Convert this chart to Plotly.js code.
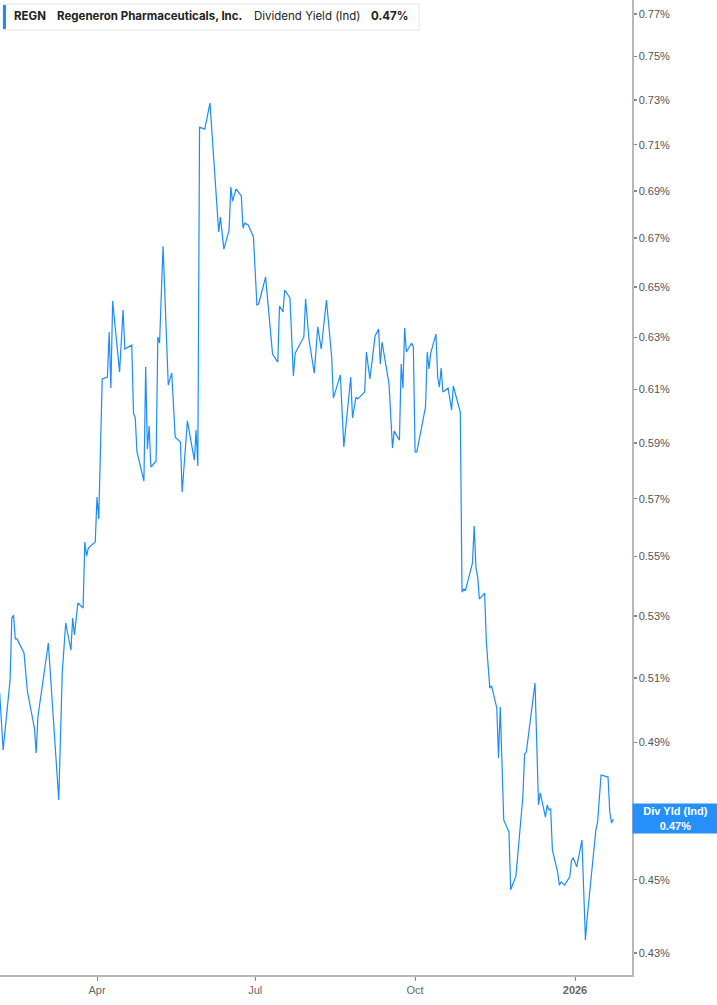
<!DOCTYPE html>
<html>
<head>
<meta charset="utf-8">
<script src="https://cdn.plot.ly/plotly-3.0.1.min.js"></script>
<style>
  html, body { margin: 0; padding: 0; background: #ffffff; }
  #chart { width: 717px; height: 1005px; }
</style>
</head>
<body>
<div id="chart"></div>
<script>
const ticker = 'REGN';
const companyName = 'Regeneron Pharmaceuticals, Inc.';
const metricName = 'Dividend Yield (Ind)';
const metricShort = 'Div Yld (Ind)';

const dates = [
  '2025-02-04','2025-02-06','2025-02-10','2025-02-11','2025-02-12','2025-02-13','2025-02-14','2025-02-18','2025-02-20','2025-02-24',
  '2025-02-25','2025-02-26','2025-03-04','2025-03-06','2025-03-10','2025-03-12','2025-03-14','2025-03-17','2025-03-18','2025-03-19',
  '2025-03-21','2025-03-24','2025-03-25','2025-03-26','2025-03-27','2025-03-31','2025-04-01','2025-04-02','2025-04-04','2025-04-07',
  '2025-04-08','2025-04-09','2025-04-10','2025-04-14','2025-04-16','2025-04-17','2025-04-21','2025-04-22','2025-04-23','2025-04-24',
  '2025-04-28','2025-04-29','2025-04-30','2025-05-01','2025-05-02','2025-05-05','2025-05-06','2025-05-07','2025-05-09','2025-05-12',
  '2025-05-14','2025-05-16','2025-05-19','2025-05-20','2025-05-23','2025-05-27','2025-05-28','2025-05-29','2025-05-30','2025-06-02',
  '2025-06-05','2025-06-10','2025-06-11','2025-06-13','2025-06-16','2025-06-17','2025-06-18','2025-06-20','2025-06-23','2025-06-24',
  '2025-06-25','2025-06-27','2025-06-30','2025-07-02','2025-07-03','2025-07-07','2025-07-11','2025-07-14','2025-07-15','2025-07-17',
  '2025-07-18','2025-07-21','2025-07-23','2025-07-24','2025-07-29','2025-07-30','2025-08-01','2025-08-04','2025-08-06','2025-08-08',
  '2025-08-11','2025-08-14','2025-08-15','2025-08-19','2025-08-21','2025-08-25','2025-08-26','2025-08-28','2025-08-29','2025-09-02',
  '2025-09-03','2025-09-05','2025-09-08','2025-09-10','2025-09-11','2025-09-12','2025-09-16','2025-09-18','2025-09-19','2025-09-22',
  '2025-09-23','2025-09-24','2025-09-25','2025-09-26','2025-09-29','2025-09-30','2025-10-01','2025-10-02','2025-10-07','2025-10-08',
  '2025-10-09','2025-10-10','2025-10-13','2025-10-14','2025-10-15','2025-10-16','2025-10-17','2025-10-20','2025-10-22','2025-10-23',
  '2025-10-27','2025-10-28','2025-10-29','2025-10-30','2025-11-03','2025-11-04','2025-11-05','2025-11-06','2025-11-07','2025-11-10',
  '2025-11-11','2025-11-13','2025-11-14','2025-11-17','2025-11-18','2025-11-19','2025-11-21','2025-11-24','2025-11-25','2025-11-28',
  '2025-12-02','2025-12-03','2025-12-04','2025-12-09','2025-12-10','2025-12-11','2025-12-12','2025-12-15','2025-12-16','2025-12-17',
  '2025-12-18','2025-12-19','2025-12-22','2025-12-23','2025-12-24','2025-12-26','2025-12-29','2025-12-30','2025-12-31','2026-01-02',
  '2026-01-05','2026-01-07','2026-01-08','2026-01-13','2026-01-14','2026-01-16','2026-01-20','2026-01-21','2026-01-22','2026-01-23'
];

const yieldPct = [
  0.5053,0.4877,0.5094,0.5293,0.5303,0.5225,0.5225,0.5180,0.5056,0.4944,
  0.4868,0.4978,0.5212,0.5053,0.4728,0.5116,0.5277,0.5189,0.5293,0.5238,
  0.5343,0.5326,0.5549,0.5501,0.5528,0.5549,0.5706,0.5629,0.6140,0.6147,
  0.6321,0.6105,0.6444,0.6166,0.6408,0.6255,0.6270,0.6011,0.5993,0.5868,
  0.5763,0.6185,0.5878,0.5963,0.5813,0.5835,0.6302,0.6278,0.6667,0.6116,
  0.6162,0.5922,0.5904,0.5724,0.5982,0.5838,0.5948,0.5817,0.7178,0.7169,
  0.7286,0.6726,0.6788,0.6655,0.6734,0.6916,0.6856,0.6908,0.6878,0.6742,
  0.6763,0.6755,0.6705,0.6428,0.6432,0.6540,0.6235,0.6204,0.6424,0.6400,
  0.6488,0.6456,0.6151,0.6239,0.6302,0.6452,0.6290,0.6162,0.6341,0.6255,
  0.6448,0.6224,0.6067,0.6155,0.5886,0.6147,0.5993,0.6071,0.6064,0.6090,
  0.6243,0.6140,0.6306,0.6333,0.6197,0.6282,0.6120,0.5882,0.5944,0.5911,
  0.6197,0.6105,0.6337,0.6243,0.6278,0.6263,0.5868,0.5868,0.6034,0.6243,
  0.6178,0.6239,0.6313,0.6147,0.6109,0.6181,0.6090,0.6105,0.6023,0.6113,
  0.6015,0.5379,0.5389,0.5386,0.5477,0.5604,0.5464,0.5430,0.5356,0.5376,
  0.5215,0.5068,0.5075,0.5006,0.4853,0.5009,0.4670,0.4635,0.4472,0.4510,
  0.4737,0.4865,0.4871,0.5084,0.4862,0.4714,0.4749,0.4678,0.4714,0.4699,
  0.4702,0.4584,0.4521,0.4485,0.4494,0.4485,0.4508,0.4555,0.4561,0.4536,
  0.4612,0.4335,0.4395,0.4641,0.4664,0.4802,0.4796,0.4693,0.4661,0.4673
];

const yTickVals = [0.43,0.45,0.47,0.49,0.51,0.53,0.55,0.57,0.59,0.61,0.63,0.65,0.67,0.69,0.71,0.73,0.75,0.77];
const xTickVals = ['2025-04-01','2025-07-01','2025-10-01','2026-01-01'];
const xTickText = ['Apr','Jul','Oct','<b>2026</b>'];

const lineColor = '#1a8cff';
const lastVal = yieldPct[yieldPct.length - 1];
const lastText = lastVal.toFixed(2) + '%';
// the tick label that sits behind the last-value box is hidden by it
const yTickText = yTickVals.map(v => (v.toFixed(2) + '%' === lastText) ? '' : v.toFixed(2) + '%');

const trace = {
  type: 'scatter',
  mode: 'lines',
  x: dates,
  y: yieldPct,
  line: { color: lineColor, width: 1.2 },
  hoverinfo: 'skip',
  showlegend: false
};

const titleFont = { family: 'Inter, Roboto, Arial, sans-serif', size: 11.5, color: '#222222' };

const layout = {
  width: 717,
  height: 1005,
  margin: { l: 0, r: 85, t: 0, b: 30, pad: 0 },
  paper_bgcolor: '#ffffff',
  plot_bgcolor: '#ffffff',
  showlegend: false,
  xaxis: {
    type: 'date',
    range: ['2025-02-04 04:41', '2026-02-02 19:00'],
    tickmode: 'array',
    tickvals: xTickVals,
    ticktext: xTickText,
    ticks: 'outside',
    ticklen: 4,
    tickwidth: 1,
    tickcolor: '#888888',
    showgrid: false,
    zeroline: false,
    showline: true,
    linecolor: '#b8b8b8',
    linewidth: 1.5,
    tickfont: { family: 'Arial, Liberation Sans, sans-serif', size: 11, color: '#666666' },
    fixedrange: true
  },
  yaxis: {
    type: 'log',
    side: 'right',
    range: [-0.37246, -0.10974],
    tickmode: 'array',
    tickvals: yTickVals,
    ticktext: yTickText,
    ticks: 'outside',
    ticklen: 3,
    tickwidth: 1.5,
    tickcolor: '#888888',
    showgrid: false,
    zeroline: false,
    showline: true,
    linecolor: '#b8b8b8',
    linewidth: 1.5,
    tickfont: { family: 'Arial, Liberation Sans, sans-serif', size: 11, color: '#555555' },
    fixedrange: true
  },
  shapes: [
    {
      type: 'rect', layer: 'above',
      xref: 'paper', yref: 'paper',
      xsizemode: 'pixel', ysizemode: 'pixel',
      xanchor: 0, yanchor: 1,
      x0: 3, x1: 419, y0: -4, y1: -30,
      fillcolor: '#ffffff',
      line: { color: '#e4e4e4', width: 1 }
    },
    {
      type: 'rect', layer: 'above',
      xref: 'paper', yref: 'paper',
      xsizemode: 'pixel', ysizemode: 'pixel',
      xanchor: 0, yanchor: 1,
      x0: 3, x1: 6, y0: -5, y1: -29,
      fillcolor: lineColor,
      line: { width: 0 }
    }
  ],
  annotations: [
    { xref: 'paper', yref: 'paper', x: 0, y: 1, xanchor: 'left', yanchor: 'middle',
      xshift: 12, yshift: -16, showarrow: false, text: '<b>' + ticker + '</b>', font: titleFont },
    { xref: 'paper', yref: 'paper', x: 0, y: 1, xanchor: 'left', yanchor: 'middle',
      xshift: 55, yshift: -16, showarrow: false, text: '<b>' + companyName + '</b>', font: titleFont },
    { xref: 'paper', yref: 'paper', x: 0, y: 1, xanchor: 'left', yanchor: 'middle',
      xshift: 252, yshift: -16, showarrow: false, text: metricName, font: titleFont },
    { xref: 'paper', yref: 'paper', x: 0, y: 1, xanchor: 'left', yanchor: 'middle',
      xshift: 369, yshift: -16, showarrow: false, text: '<b>' + lastText + '</b>', font: titleFont },
    { xref: 'paper', yref: 'y', x: 1, y: Math.log10(lastVal), xanchor: 'left', yanchor: 'middle',
      xshift: 0, showarrow: false,
      text: '<b>' + metricShort + '</b><br><b>' + lastText + '</b>',
      bgcolor: '#2690fa', borderpad: 0, width: 85, height: 29, align: 'center',
      font: { family: 'Arial, Liberation Sans, sans-serif', size: 11, color: '#ffffff' } }
  ]
};

Plotly.newPlot('chart', [trace], layout, { displayModeBar: false, staticPlot: true });
</script>
</body>
</html>
